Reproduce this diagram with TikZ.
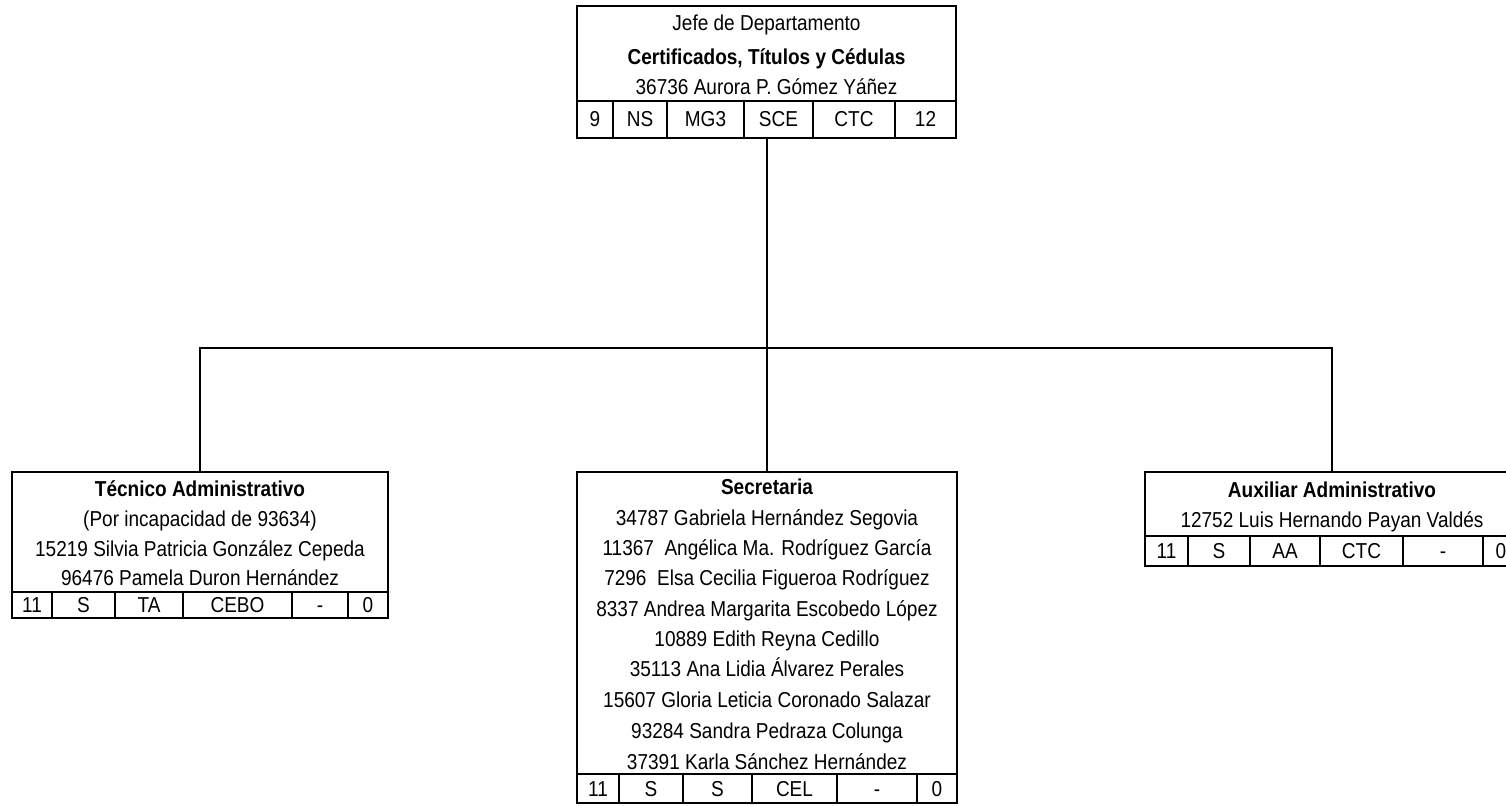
\documentclass[tikz,border=0pt]{standalone}
\usepackage{fontspec}
\setmainfont{Liberation Sans}[FakeStretch=0.88]
\begin{document}
\begin{tikzpicture}[x=0.5pt,y=-0.5pt,
  box/.style={draw, line width=1.3pt, inner sep=0pt, anchor=center},
  sepline/.style={line width=1pt},
  conn/.style={line width=1pt},
  txt/.style={inner sep=0pt, anchor=center, text height=7.7pt, text depth=0pt, font=\fontsize{10.8}{12}\selectfont},
  hd/.style={txt, font=\fontsize{10.8}{12}\selectfont\bfseries}]
\useasboundingbox (0,0) rectangle (1506,806);
\clip (0,0) rectangle (1506,806);

% ---------- top box
\node[box, minimum width=189.5pt, minimum height=66pt] (top) at (766.5,72) {};
\draw[sepline] (577,101) -- (956,101);
\foreach \x in {613,667,744,813,895} \draw[sepline] (\x,101) -- (\x,138);
\node[txt] (top1) at (766.5,23) {Jefe de Departamento};
\node[hd]  (top2) at (766.5,57) {Certificados, Títulos y Cédulas};
\node[txt] (top3) at (766.5,87) {36736 Aurora P. Gómez Yáñez};
\node[txt] (topa) at (595,119) {9};
\node[txt] (topb) at (640,119) {NS};
\node[txt] (topc) at (705.5,119) {MG3};
\node[txt] (topd) at (778.5,119) {SCE};
\node[txt] (tope) at (854,119) {CTC};
\node[txt] (topf) at (925.5,119) {12};

% ---------- left box
\node[box, minimum width=188pt, minimum height=73pt] (tec) at (200,545) {};
\draw[sepline] (12,592) -- (388,592);
\foreach \x in {52,115,183,292,348} \draw[sepline] (\x,592) -- (\x,618);
\node[hd]  (tec1) at (200,489) {Técnico Administrativo};
\node[txt] (tec2) at (200,519) {(Por incapacidad de 93634)};
\node[txt] (tec3) at (200,549) {15219 Silvia Patricia González Cepeda};
\node[txt] (tec4) at (200,578) {96476 Pamela Duron Hernández};
\node[txt] (teca) at (32,605) {11};
\node[txt] (tecb) at (83.5,605) {S};
\node[txt] (tecc) at (149,605) {TA};
\node[txt] (tecd) at (237.5,605) {CEBO};
\node[txt] (tece) at (320,605) {-};
\node[txt] (tecf) at (368,605) {0};

% ---------- middle box
\node[box, minimum width=190pt, minimum height=165.5pt] (sec) at (767,637.5) {};
\draw[sepline] (577,774) -- (957,774);
\foreach \x in {619,683,752,837,917} \draw[sepline] (\x,774) -- (\x,803);
\node[hd]  (sec0) at (767,487) {Secretaria};
\node[txt] (sec1) at (767,518) {34787 Gabriela Hernández Segovia};
\node[txt] (sec2) at (767,548) {11367~ Angélica Ma. Rodríguez García};
\node[txt] (sec3) at (767,578) {7296~ Elsa Cecilia Figueroa Rodríguez};
\node[txt] (sec4) at (767,609) {8337 Andrea Margarita Escobedo López};
\node[txt] (sec5) at (767,639) {10889 Edith Reyna Cedillo};
\node[txt] (sec6) at (767,669) {35113 Ana Lidia Álvarez Perales};
\node[txt] (sec7) at (767,700) {15607 Gloria Leticia Coronado Salazar};
\node[txt] (sec8) at (767,731) {93284 Sandra Pedraza Colunga};
\node[txt] (sec9) at (767,762) {37391 Karla Sánchez Hernández};
\node[txt] (seca) at (598,789) {11};
\node[txt] (secb) at (651,789) {S};
\node[txt] (secc) at (717.5,789) {S};
\node[txt] (secd) at (794.5,789) {CEL};
\node[txt] (sece) at (877,789) {-};
\node[txt] (secf) at (937,789) {0};

% ---------- right box
\node[box, minimum width=187pt, minimum height=47pt] (aux) at (1332,519) {};
\draw[sepline] (1145,536) -- (1519,536);
\foreach \x in {1188,1250,1320,1403,1483} \draw[sepline] (\x,536) -- (\x,566);
\node[hd]  (aux1) at (1332,490) {Auxiliar Administrativo};
\node[txt] (aux2) at (1332,520) {12752 Luis Hernando Payan Valdés};
\node[txt] (auxa) at (1166.5,551) {11};
\node[txt] (auxb) at (1219,551) {S};
\node[txt] (auxc) at (1285,551) {AA};
\node[txt] (auxd) at (1361.5,551) {CTC};
\node[txt] (auxe) at (1443,551) {-};
\node[txt] (auxf) at (1501,551) {0};

% ---------- connectors
\coordinate (bus) at (766.5,348);
\draw[conn] (top.south) -- (bus);
\draw[conn] (tec.north) |- (bus) -| (aux.north);
\draw[conn] (sec.north) -- (sec.north |- bus);
\end{tikzpicture}
\end{document}
